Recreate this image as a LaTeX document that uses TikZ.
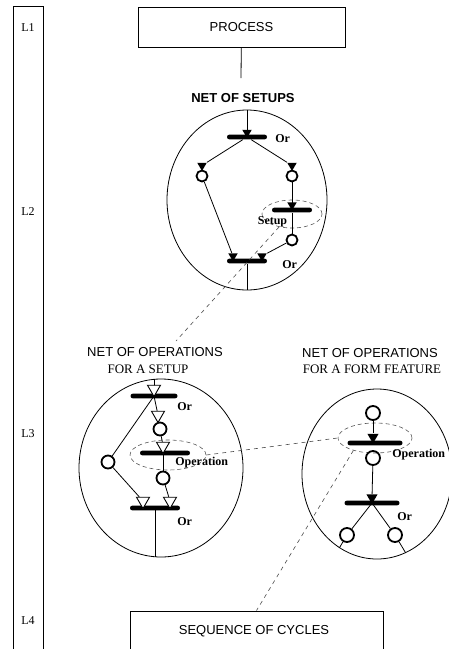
\documentclass[tikz,border=0pt]{standalone}
\usepackage{fontspec}
\setmainfont{Liberation Serif}
\newfontfamily\sansf{Liberation Sans}
\usepackage{tikz}
\usetikzlibrary{shapes.geometric}
\tikzstyle{net}=[draw,ellipse,inner sep=0pt,line width=0.8pt]
\tikzstyle{place}=[draw,circle,line width=1.8pt,inner sep=0pt]
\tikzstyle{bar}=[fill=black,rectangle,rounded corners=2.2pt,minimum height=4.6pt,inner sep=0pt]
\tikzstyle{ftri}=[fill=black,regular polygon,regular polygon sides=3,shape border rotate=180,inner sep=0pt]
\tikzstyle{otri}=[draw,fill=white,line width=0.9pt,regular polygon,regular polygon sides=3,shape border rotate=180,inner sep=0pt,minimum size=15pt]
\tikzstyle{zone}=[draw=black!65,ellipse,dash pattern=on 4pt off 3pt,line width=0.6pt,inner sep=0pt]
\tikzstyle{link}=[draw=black!70,dash pattern=on 4pt off 4pt,line width=0.6pt]
\tikzstyle{lbl}=[font=\fontsize{12}{14}\selectfont\bfseries,inner sep=0pt,anchor=west]
\tikzstyle{ttl}=[font=\fontsize{13}{15}\selectfont\sansf,inner sep=0pt]
\tikzstyle{sub}=[font=\fontsize{13}{15}\selectfont,inner sep=0pt]
\tikzstyle{box}=[draw,line width=0.9pt,rectangle,inner sep=0pt,font=\fontsize{13}{15}\selectfont\sansf]
\begin{document}
\begin{tikzpicture}[x=1pt,y=-1pt,line width=0.8pt]
\useasboundingbox (0,0) rectangle (448,649);
\draw (13,6) rectangle (43,700);
\node [font=\fontsize{12}{14}\selectfont] (lv1) at (28,28) {L1};
\node [font=\fontsize{12}{14}\selectfont] (lv2) at (28,212) {L2};
\node [font=\fontsize{12}{14}\selectfont] (lv3) at (28,434) {L3};
\node [font=\fontsize{12}{14}\selectfont] (lv4) at (28,621) {L4};

\node [box,minimum width=207pt,minimum height=40pt] (proc) at (241.5,27) {PROCESS};
\coordinate (l1) at (241,78);
\draw (proc) -- (l1);
\node [ttl,font=\fontsize{13}{15}\selectfont\sansf\bfseries] (ttl1) at (243,98) {NET OF SETUPS};

\node [net,minimum width=160pt,minimum height=180pt] (n1) at (247,200) {};
\node [bar,minimum width=40pt] (b1) at (247,137) {};
\node [ftri,minimum size=11pt] (t1) at (247,132.5) {};
\node [lbl] (or1) at (275,139) {Or};
\node [place,minimum size=11pt] (p1) at (202,176) {};
\node [ftri,minimum size=11pt] (tl) at (202,165.5) {};
\node [place,minimum size=11pt] (p2) at (292,176) {};
\node [ftri,minimum size=11pt] (tr) at (292,165.5) {};
\node [zone,minimum width=60pt,minimum height=28pt] (e1) at (292,214) {};
\node [bar,minimum width=40pt] (b2) at (292,210) {};
\node [ftri,minimum size=11pt] (t3) at (292,205) {};
\node [lbl,anchor=center] (su) at (272.5,222) {Setup};
\node [place,minimum size=11pt] (p3) at (292,240) {};
\node [bar,minimum width=40pt] (b3) at (247,261) {};
\node [ftri,minimum size=11pt] (ta) at (233,256) {};
\node [ftri,minimum size=11pt] (tb) at (262,256) {};
\node [lbl] (or2) at (282,265) {Or};
\draw (n1.north) -- (b1);
\draw (b1) -- (tl);
\draw (b1) -- (tr);
\draw (p2) -- (b2);
\draw (b2) -- (p3);
\draw (p1) -- (ta);
\draw (p3) -- (tb);
\draw (b3) -- (b3 |- n1.south);

\node [ttl] (ttl2) at (155,352) {NET OF OPERATIONS};
\node [sub] (sub2) at (148,369) {FOR A SETUP};
\node [net,minimum width=164pt,minimum height=178pt] (n2) at (161,468) {};
\node [bar,minimum width=47pt] (b4) at (154,396) {};
\draw (b4) -- (b4 |- n2.north);
\node [otri] (t4) at (154,389) {};
\node [lbl] (or3) at (177,407) {Or};
\node [place,minimum size=13pt] (p4) at (160,429) {};
\node [otri] (t5) at (158,415) {};
\node [place,minimum size=13pt] (p5) at (108,462) {};
\node [zone,minimum width=76pt,minimum height=30pt] (e2) at (168,455) {};
\node [bar,minimum width=50pt] (b5) at (165,453) {};
\node [otri] (t6) at (163,446) {};
\node [lbl] (op1) at (175,463) {Operation};
\node [place,minimum size=13pt] (p6) at (163,478) {};
\node [bar,minimum width=50pt] (b6) at (155,508) {};
\node [otri] (t7) at (143,501) {};
\node [otri] (t8) at (170,501) {};
\node [lbl] (or4) at (177,522) {Or};
\draw (b4.center) -- (t5);
\draw (b4.center) -- (p5);
\draw (p4) -- (t6);
\draw (t6) -- (p6);
\draw (p5) -- (t7);
\draw (p6) -- (t8);
\draw (b6.center) -- (b6.center |- n2.south);

\node [ttl] (ttl3) at (370,353) {NET OF OPERATIONS};
\node [sub] (sub3) at (372,369) {FOR A FORM FEATURE};
\node [net,minimum width=150pt,minimum height=170pt] (n3) at (377,474) {};
\node [place,minimum size=14pt] (p7) at (373,413) {};
\node [zone,minimum width=74pt,minimum height=30pt] (e3) at (375,438) {};
\node [bar,minimum width=55pt] (b7) at (375,443) {};
\node [ftri,minimum size=13pt] (t9) at (373,437) {};
\node [place,minimum size=14pt] (p8) at (373,458) {};
\node [lbl] (op2) at (392,455) {Operation};
\node [bar,minimum width=55pt] (b8) at (372,503) {};
\node [ftri,minimum size=13pt] (t10) at (372,497.5) {};
\node [lbl] (or5) at (397,517) {Or};
\node [place,minimum size=14pt] (p9) at (347,535) {};
\node [place,minimum size=14pt] (p10) at (395,535) {};
\draw (p7) -- (t9);
\draw (p8) -- (t10);
\draw (b8.center) -- (p9);
\draw (b8.center) -- (p10);
\draw (p9) -- (n3.243);
\draw (p10) -- (n3.290);

\node [box,minimum width=253pt,minimum height=40pt] (seq) at (256.5,631) {};
\node [ttl] (seqt) at (254,631) {SEQUENCE OF CYCLES};

\coordinate (d1) at (176,341);
\draw [link] (e1.225) -- (d1);
\draw [link] (e2.east) -- (e3.west);
\draw [link] (e3.210) -- (seq.north);
\end{tikzpicture}
\end{document}
